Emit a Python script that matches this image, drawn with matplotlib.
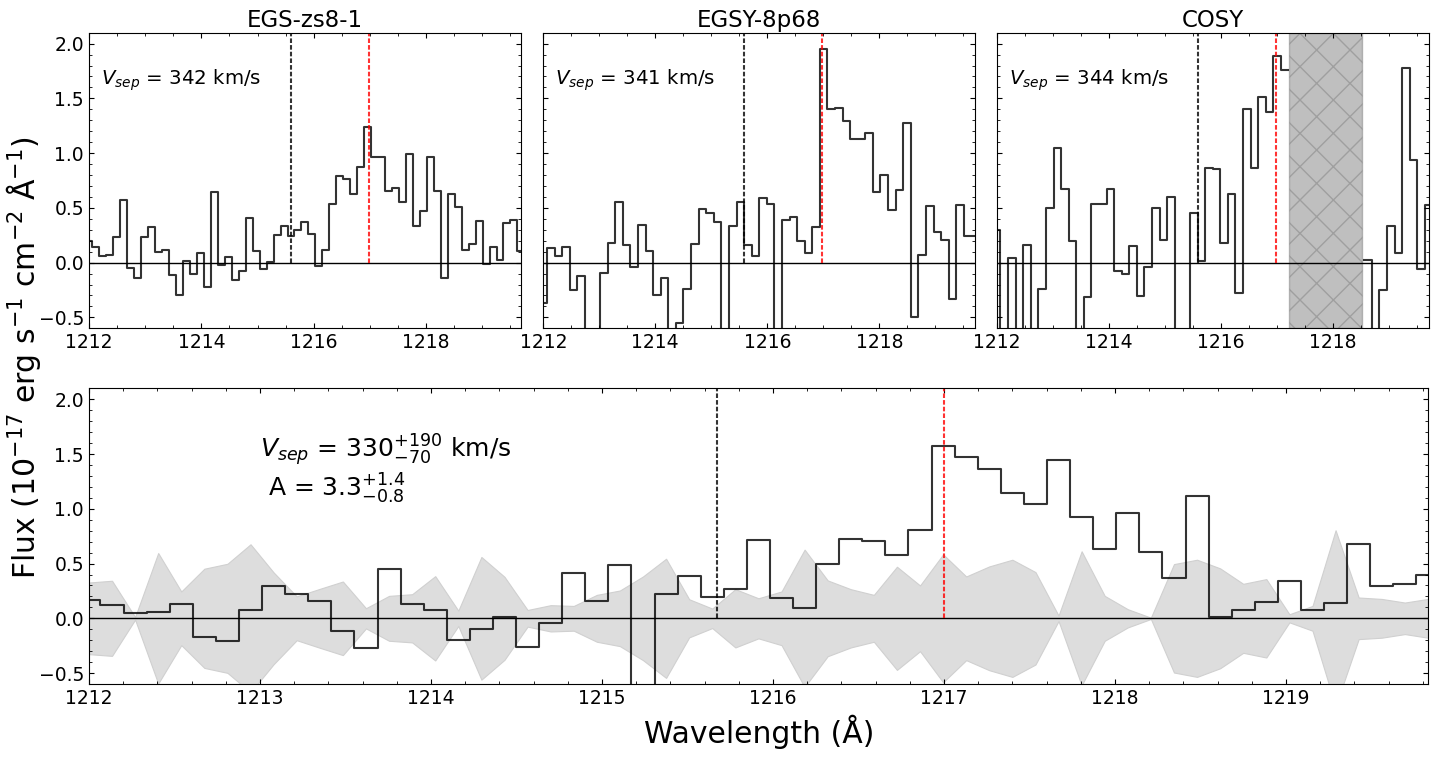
import numpy as np
import matplotlib.pyplot as plt
from matplotlib.ticker import MultipleLocator

# wavelength grids (start and pixel step)
wave0 = 1212.0
step_egs = 0.124
step_other = 0.1353
step_stack = 0.135

# flux per pixel, 1e-17 erg/s/cm2/A ; -1.0 = below the plotted range
egs_flux = [0.198, 0.143, 0.058, 0.070, 0.234, 0.572, -0.052, -0.137, 0.234, 0.323,
            0.094, 0.119, -0.116, -0.295, 0.015, -0.103, 0.085, -0.219, 0.642, -0.024,
            0.049, -0.158, -0.079, 0.405, 0.110, -0.055, 0.006, 0.250, 0.332, 0.240,
            0.295, 0.368, 0.259, -0.030, 0.116, 0.539, 0.791, 0.761, 0.624, 0.877,
            1.239, 0.968, 0.968, 0.654, 0.682, 0.551, 0.992, 0.335, 0.469, 0.968,
            0.654, -0.137, 0.627, 0.508, 0.116, 0.170, 0.381, -0.012, 0.143, 0.024,
            0.362, 0.387, 0.107]
egsy_flux = [-0.371, 0.134, 0.058, 0.143, -0.253, -0.125, -1.0, -1.0, -0.094, 0.180,
             0.554, 0.161, -0.043, 0.344, 0.110, -0.298, -0.143, -1.0, -0.554, -0.237,
             0.167, 0.490, 0.457, 0.374, -1.0, 0.335, 0.554, 0.161, 0.061, 0.591,
             0.536, -1.0, 0.390, 0.414, 0.201, 0.085, 0.326, 1.948, 1.403, 1.412,
             1.294, 1.132, 1.132, 1.184, 0.642, 0.804, 0.478, 0.664, 1.272, -0.493,
             0.070, 0.514, 0.283, 0.207, -0.332, 0.527, 0.240, 0.240]
cosy_flux = [0.298, -1.0, 0.043, -1.0, 0.161, -1.0, -0.237, 0.499, 1.047, 0.673,
             0.198, -1.0, -0.311, 0.536, 0.536, 0.673, -0.073, -0.103, 0.152, -0.304,
             -0.043, 0.499, 0.207, 0.600, -1.0, -1.0, 0.454, 0.015, 0.868, 0.852,
             0.180, 0.630, -0.277, 1.403, 0.868, 1.513, 1.373, 1.887, 1.759,
             np.nan, np.nan, np.nan, np.nan, np.nan, np.nan, np.nan, np.nan, np.nan, np.nan,
             0.024, -1.0, -0.250, 0.335, 0.088, 1.778, 0.935, -0.055, 0.527]

stack_flux = [0.171, 0.122, 0.049, 0.061, 0.135, -0.171, -0.208, 0.080, 0.297, 0.226,
              0.162, -0.113, -0.269, 0.446, 0.135, 0.080, -0.196, -0.095, 0.015, -0.260,
              -0.042, 0.413, 0.162, 0.486, -1.0, 0.226, 0.382, 0.196, 0.272, 0.713,
              0.190, 0.095, 0.495, 0.722, 0.703, 0.575, 0.804, 1.575, 1.474, 1.364,
              1.144, 1.043, 1.446, 0.924, 0.630, 0.960, 0.602, 0.364, 1.113, 0.015,
              0.080, 0.153, 0.343, 0.073, 0.144, 0.676, 0.297, 0.309, 0.391]
stack_err = [0.327, 0.343, 0.012, 0.596, 0.245, 0.453, 0.498, 0.676, 0.419, 0.200,
             0.269, 0.336, 0.092, 0.205, 0.220, 0.385, 0.070, 0.560, 0.379, 0.076,
             0.120, 0.113, 0.214, 0.254, 0.382, 0.544, 0.174, 0.089, 0.266, 0.183,
             0.245, 0.627, 0.346, 0.266, 0.214, 0.471, 0.300, 0.584, 0.382, 0.474,
             0.535, 0.422, 0.025, 0.612, 0.205, 0.083, 0.006, 0.495, 0.535, 0.456,
             0.315, 0.358, 0.037, 0.113, 0.804, 0.190, 0.177, 0.144, 0.177]

names = ["EGS-zs8-1", "EGSY-8p68", "COSY"]
vsep = [342, 341, 344]
lya_top = 1215.59
red_top = [1216.98, 1216.97, 1216.99]
lya_stack = 1215.67
red_stack = 1217.0
cosy_mask = (1217.21, 1218.52)

YLIM = (-0.6, 2.1)


def style(ax, major, minor, labelleft=True):
    ax.set_ylim(*YLIM)
    ax.xaxis.set_major_locator(MultipleLocator(major))
    ax.xaxis.set_minor_locator(MultipleLocator(minor))
    ax.yaxis.set_major_locator(MultipleLocator(0.5))
    ax.yaxis.set_minor_locator(MultipleLocator(0.1))
    ax.tick_params(which='both', direction='in', top=True, right=True,
                   labelsize=13.5, labelleft=labelleft)
    ax.axhline(0, color='k', lw=1)


def markers(ax, x_sys, x_red):
    ax.vlines(x_sys, 0, YLIM[1], colors='k', alpha=0.8, lw=1.5, linestyles=(0, (2.2, 1)))
    ax.vlines(x_red, 0, YLIM[1], colors='r', alpha=0.8, lw=1.5, linestyles=(0, (2.2, 1)))


fig = plt.figure(figsize=(14.51, 7.57), dpi=100)

tops = [egs_flux, egsy_flux, cosy_flux]
steps = [step_egs, step_other, step_other]
lefts = [0.0613, 0.3744, 0.6869]
for i in range(3):
    ax = fig.add_axes([lefts[i], 0.5663, 0.2977, 0.3905])
    flux = np.array(tops[i], dtype=float)
    wave = wave0 + np.arange(len(flux)) * steps[i]
    ax.plot(wave, flux, drawstyle='steps-mid', color='k', alpha=0.8, lw=1.5)
    ax.set_xlim(wave[0], wave[-1])
    style(ax, 2, 0.5, labelleft=(i == 0))
    markers(ax, lya_top, red_top[i])
    if names[i] == "COSY":
        ax.axvspan(*cosy_mask, color='gray', alpha=0.5, hatch='x')
    ax.text(0.028, 0.84, r'$V_{sep}$ = %d km/s' % vsep[i], transform=ax.transAxes,
            fontsize=14.2, ha='left', va='center')
    ax.set_title(names[i], fontsize=16.5, pad=4)

ax = fig.add_axes([0.0613, 0.0964, 0.9228, 0.3906])
flux = np.array(stack_flux)
err = np.array(stack_err)
wave = wave0 + np.arange(len(flux)) * step_stack
ax.fill_between(wave, -err, err, facecolor='#dddddd', edgecolor='#d0d0d0', lw=0.8)
ax.plot(wave, flux, drawstyle='steps-mid', color='k', alpha=0.8, lw=1.5)
ax.set_xlim(wave[0], wave[-1])
style(ax, 1, 0.2)
markers(ax, lya_stack, red_stack)
ax.text(0.128, 0.79, r'$V_{sep}$ = 330$^{+190}_{-70}$ km/s', transform=ax.transAxes,
        fontsize=18, ha='left', va='center')
ax.text(0.134, 0.66, r'A = 3.3$^{+1.4}_{-0.8}$', transform=ax.transAxes,
        fontsize=18, ha='left', va='center')

fig.text(0.0162, 0.527, r'Flux (10$^{-17}$ erg s$^{-1}$ cm$^{-2}$ Å$^{-1}$)',
         rotation=90, fontsize=21.5, ha='center', va='center')
fig.text(0.523, 0.033, 'Wavelength (Å)', fontsize=21.5, ha='center', va='center')

fig.savefig('out.png', dpi=100)
